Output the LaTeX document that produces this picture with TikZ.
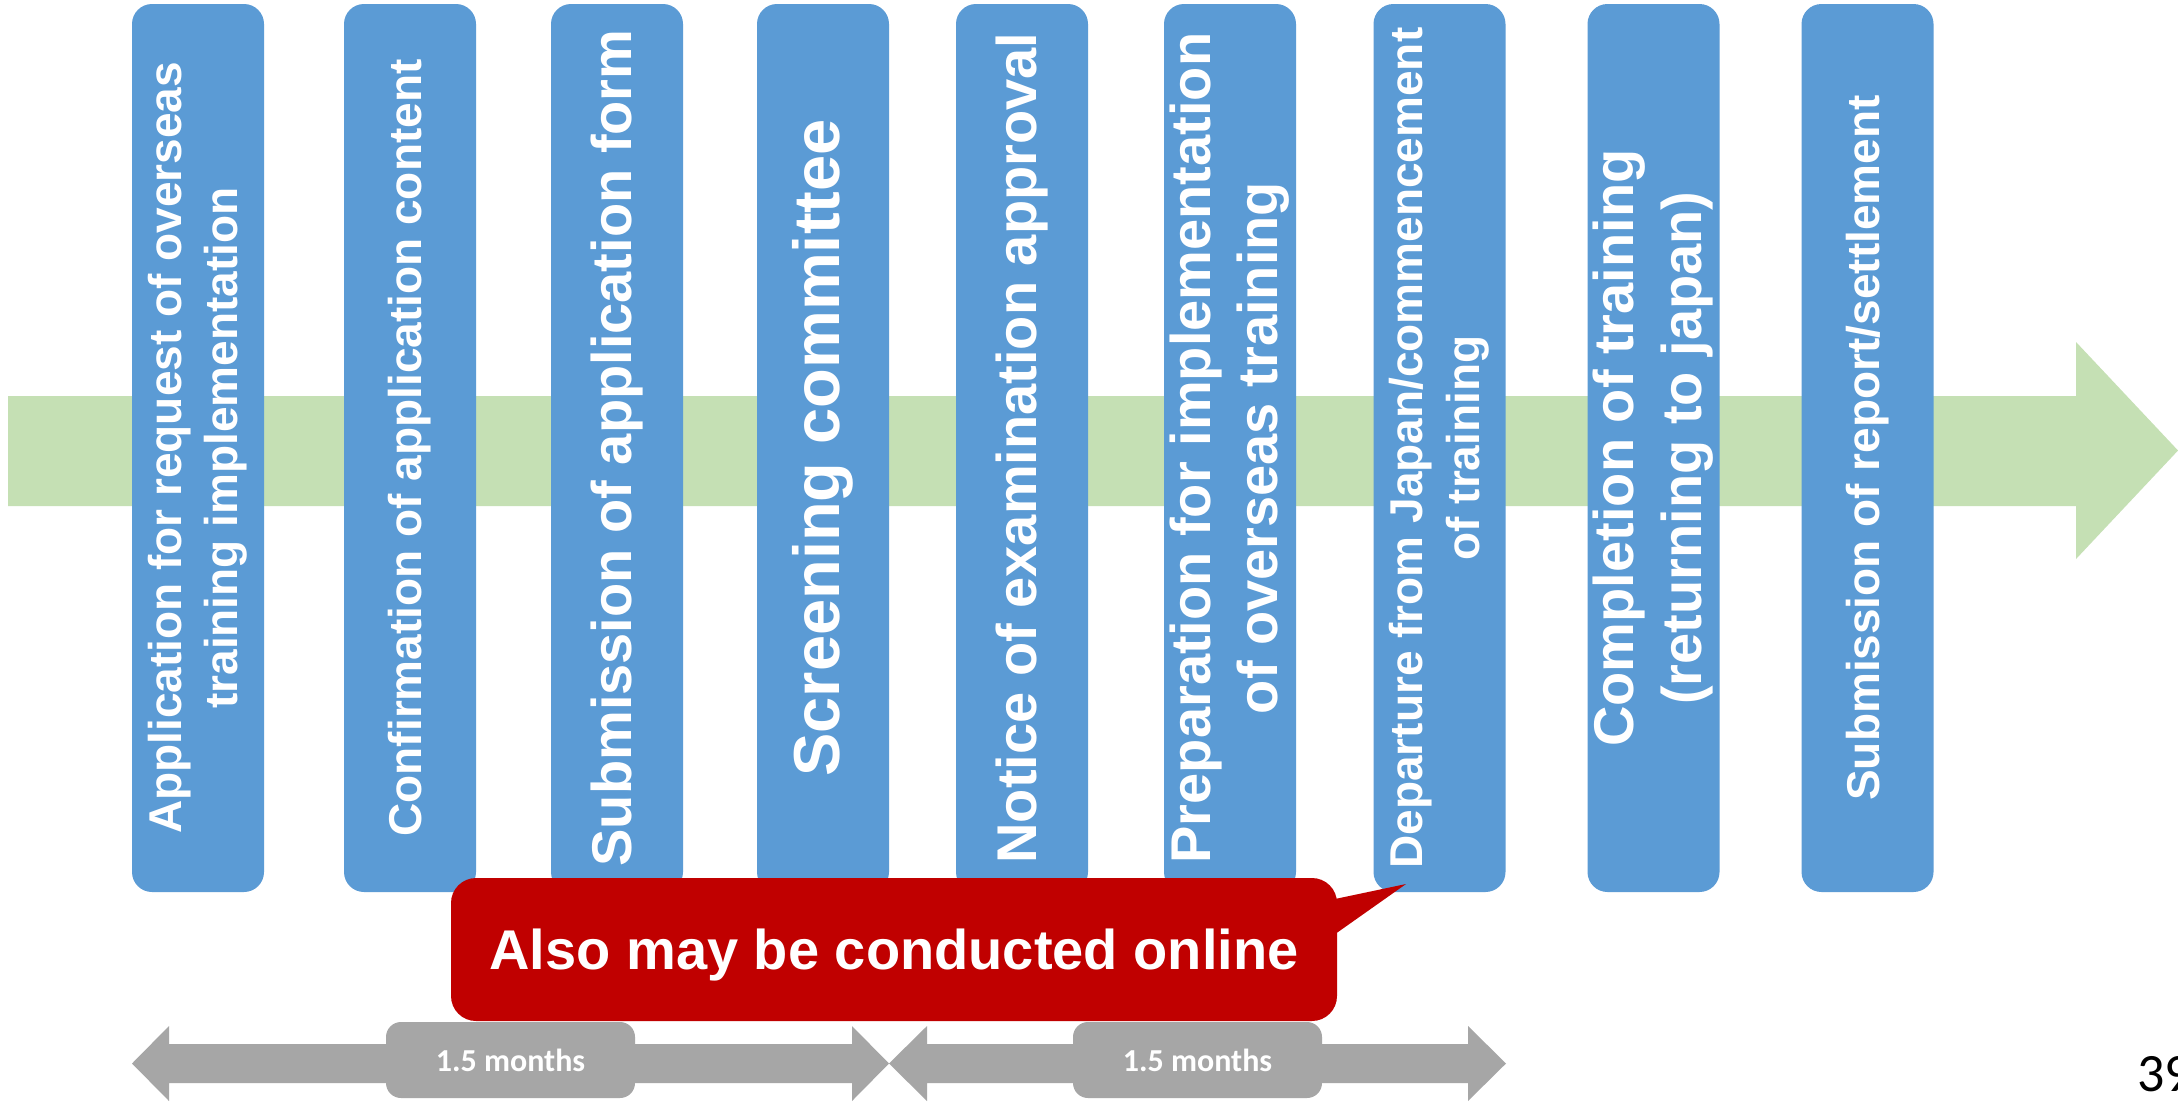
\documentclass[tikz,border=0pt]{standalone}
\usepackage{fontspec}
\setmainfont{Liberation Sans}
\newfontfamily\calibrifont{Carlito}
\usetikzlibrary{calc}
\definecolor{stepblue}{HTML}{5B9BD5}
\definecolor{flowgreen}{HTML}{C5E0B4}
\definecolor{callred}{HTML}{C00000}
\definecolor{spangray}{HTML}{A6A6A6}
\begin{document}
\begin{tikzpicture}[x=1pt,y=-1pt,
  stepbox/.style={fill=stepblue, rotate=90, rounded corners=20pt,
    minimum width=888pt, minimum height=132pt, inner sep=0pt,
    text=white, align=center},
  fs/.style 2 args={font=\bfseries\fontsize{#1}{#2}\selectfont},
  spanarrow/.style={fill=spangray},
  spanlabel/.style={fill=spangray, rounded corners=15pt, minimum width=249pt,
    minimum height=76pt, inner sep=0pt, text=white,
    font=\calibrifont\bfseries\fontsize{32}{38}\selectfont},
  notebox/.style={fill=callred, rounded corners=25pt, minimum width=886pt,
    minimum height=143pt, inner sep=0pt, text=white, text depth=0pt,
    font=\bfseries\fontsize{56}{66}\selectfont}
]
\fill[white] (0,0) rectangle (2178,1101);
\useasboundingbox (0,0) rectangle (2178,1101);

% green timeline arrow
\fill[flowgreen] (8,396) -- (2076,396) -- (2076,342) -- (2178,450.5)
  -- (2076,559) -- (2076,506) -- (8,506) -- cycle;

% step boxes
\node[stepbox, fs={46}{56}] (s1) at (198,448) {Application for request of overseas\\training implementation};
\node[stepbox, fs={46}{56}] (s2) at (410,448) {Confirmation of application content};
\node[stepbox, fs={56}{67}] (s3) at (617,448) {Submission of application form};
\node[stepbox, fs={65}{78}] (s4) at (823,448) {Screening committee};
\node[stepbox, fs={56}{67}] (s5) at (1022,448) {Notice of examination approval};
\node[stepbox, fs={56}{67}] (s6) at (1230,448) {Preparation for implementation\\of overseas training};
\node[stepbox, fs={46}{57}] (s7) at (1439.5,448) {Departure from Japan/commencement\\of training};
\node[stepbox, fs={56}{68}] (s8) at (1653.5,448) {Completion of training\\(returning to japan)};
\node[stepbox, fs={46}{56}] (s9) at (1867.5,448) {Submission of report/settlement};

% callout
\node[notebox] (note) at (894,949.5) {Also may be conducted online};
\coordinate (tip) at (1406,884);
\fill[callred] ($(note.north east)+(-6,22)$) -- (tip) -- ($(note.north east)+(-6,59)$) -- cycle;
\fill[callred] ($(note.north east)+(-8,22)$) rectangle ($(note.north east)+(0,59)$);

% span arrows
\fill[spanarrow] (132,1063.5) -- (169,1026) -- (169,1044) -- (852,1044) -- (852,1026)
  -- (889,1063.5) -- (852,1101) -- (852,1083) -- (169,1083) -- (169,1101) -- cycle;
\fill[spanarrow] (889,1063.5) -- (927,1026) -- (927,1044) -- (1468,1044) -- (1468,1026)
  -- (1506,1063.5) -- (1468,1101) -- (1468,1083) -- (927,1083) -- (927,1101) -- cycle;
\node[spanlabel] (m1) at (510.5,1060) {1.5 months};
\node[spanlabel] (m2) at (1197.5,1060) {1.5 months};

% page number
\node[anchor=base west, inner sep=0pt, font=\calibrifont\fontsize{54}{60}\selectfont] (pg) at (2137,1091) {39};
\end{tikzpicture}
\end{document}
